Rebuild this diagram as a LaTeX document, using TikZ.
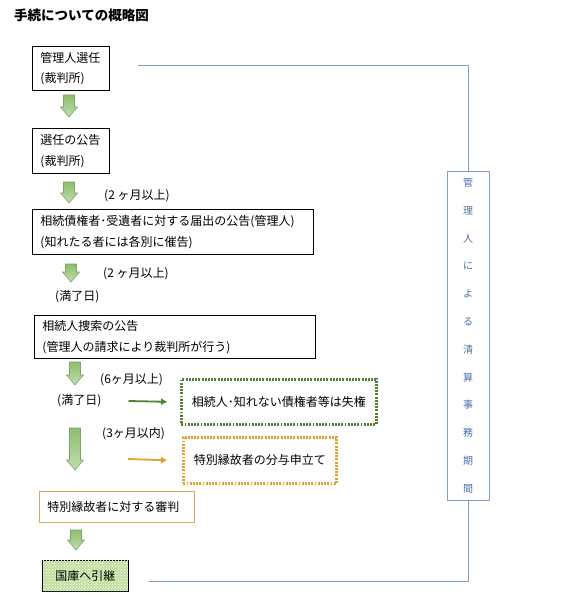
\documentclass[tikz,border=0pt]{standalone}
\usepackage{fontspec}
\setmainfont{Noto Sans CJK JP}
\usetikzlibrary{positioning, calc, arrows.meta, patterns}

\definecolor{periodc}{HTML}{7F9FC8}
\definecolor{periodtxt}{HTML}{4A6FA5}
\definecolor{lapsec}{HTML}{548235}
\definecolor{applyc}{HTML}{E0A232}
\definecolor{rulingc}{HTML}{D9A95B}
\definecolor{arrowedge}{HTML}{7EA26A}
\definecolor{arrowtop}{HTML}{8DBE6E}
\definecolor{arrowbot}{HTML}{C2DEAE}
\definecolor{kokkofill}{HTML}{C3DF9E}

\tikzset{
  pics/garrow/.style={code={
    \draw[draw=arrowedge, top color=arrowtop, bottom color=arrowbot, line width=0.6pt]
      (-5.5,0) -- (5.5,0) -- (5.5,#1-10) -- (8.5,#1-10) -- (0,#1)
      -- (-8.5,#1-10) -- (-5.5,#1-10) -- cycle;
  }}
}

\begin{document}
\begin{tikzpicture}[x=1pt, y=-1pt,
  >={Triangle[length=6pt, width=6pt]},
  every node/.style={font=\fontsize{12}{20.5}\selectfont},
  block/.style 2 args={draw, line width=0.9pt, anchor=north west, inner xsep=8pt,
                       inner ysep=2pt, align=left, text width=#1, minimum height=#2},
  note/.style={anchor=west, inner sep=0pt},
  period/.style={draw=periodc, line width=0.9pt},
  dotbox/.style={line width=2.6pt, dash pattern=on 1.9pt off 1.3pt,
                 anchor=north west, align=center},
]
  \useasboundingbox (0,0) rectangle (567,604);

  % ---- Title ----
  \node[note, font=\fontsize{13.5}{16}\selectfont\bfseries] (title) at (14,15.5) {手続についての概略図};

  % ---- Main column ----
  \node[block={61pt}{44pt}]   (sel)    at (32,46)  {管理人選任\\(裁判所)};
  \node[block={61pt}{45pt}]   (pub)    at (32,128) {選任の公告\\(裁判所)};
  \node[block={265pt}{45pt}]  (claim)  at (32,209) {相続債権者･受遺者に対する届出の公告(管理人)\\(知れたる者には各別に催告)};
  \node[block={265pt}{43pt}]  (search) at (34,315) {相続人捜索の公告\\(管理人の請求により裁判所が行う)};
  \node[block={139pt}{31pt}, draw=rulingc, line width=0.8pt] (ruling) at (39,491) {特別縁故者に対する審判};
  \node[draw, line width=0.9pt, anchor=north west, minimum width=86pt, minimum height=31pt,
        fill=kokkofill, postaction={pattern=crosshatch dots, pattern color=white}] (kokko) at (42,560) {国庫へ引継};

  \pic at (69,95)  {garrow=22};
  \pic at (69,182) {garrow=21};
  \pic at (71,264) {garrow=18};
  \pic at (75,362) {garrow=23};
  \pic at (75,428) {garrow=42};
  \pic at (76,530) {garrow=20};

  % ---- Periods ----
  \node[note] (m1)   at (104,196) {(2 ヶ月以上)};
  \node[note] (m2)   at (103,274) {(2 ヶ月以上)};
  \node[note] (end1) at (55,297)  {(満了日)};
  \node[note] (m6)   at (100,380) {(6ヶ月以上)};
  \node[note] (end2) at (57,401)  {(満了日)};
  \node[note] (m3)   at (102,434) {(3ヶ月以内)};

  % ---- Side results ----
  \node[dotbox, draw=lapsec, minimum width=195pt, minimum height=45pt] (lapse) at (180,378) {相続人･知れない債権者等は失権};
  \node[dotbox, draw=applyc, minimum width=153pt, minimum height=46pt] (apply) at (182,436) {特別縁故者の分与申立て};
  \coordinate (apfrom) at (128,459);

  \draw[->, draw=lapsec, fill=lapsec, line width=1.8pt] ($(end2.east)+(27,0)$) -- ($(lapse.west)+(-13,0)$);
  \draw[->, draw=applyc, fill=applyc, line width=1.8pt] (apfrom) -- ($(apply.west)+(-15,0)$);

  % ---- Liquidation period of the administrator ----
  \node[draw=periodc, line width=0.9pt, text=periodtxt, minimum width=42pt, minimum height=329pt,
        align=center, inner sep=0pt, font=\fontsize{10}{27.8}\selectfont] (vbox) at (468,335.5)
        {管\\理\\人\\に\\よ\\る\\清\\算\\事\\務\\期\\間};

  \draw[period] ($(sel.east)+(28,-3)$) -| (vbox.north);
  \draw[period] ($(kokko.east)+(20,5.5)$) -| (vbox.south);
\end{tikzpicture}
\end{document}
